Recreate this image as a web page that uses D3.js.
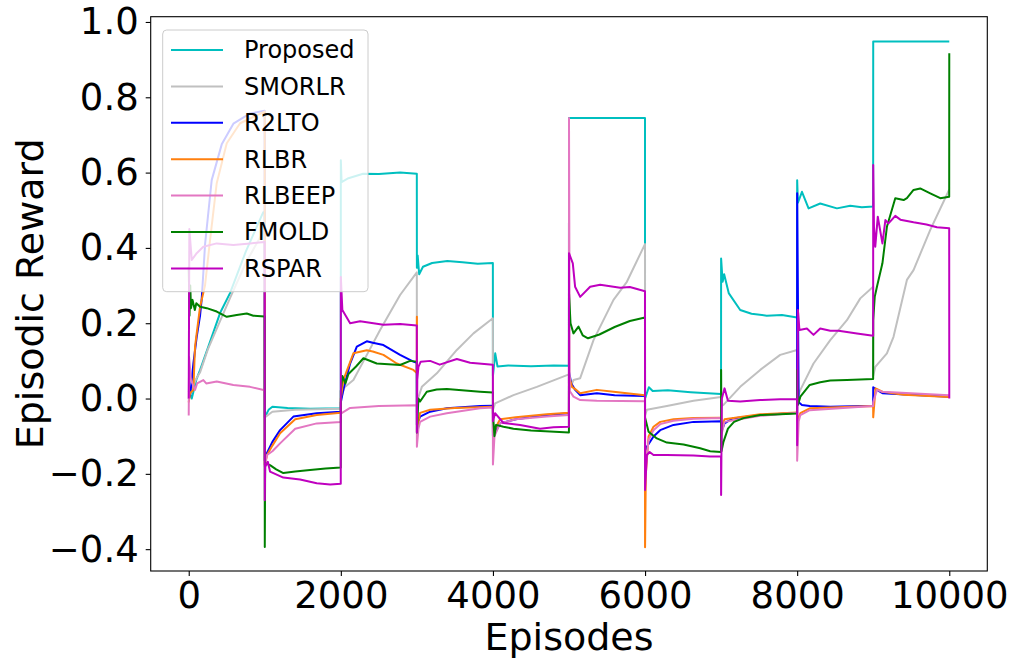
<!DOCTYPE html>
<html>
<head>
<meta charset="utf-8">
<script src="https://cdn.jsdelivr.net/npm/d3@7"></script>
<style>
  body { margin: 0; background: #fff; }
  text { font-family: "DejaVu Sans", sans-serif; }
</style>
</head>
<body>
<svg id="chart" width="1017" height="666"></svg>
<script>
/* data, [episode, reward] */
const seriesNames = ["Proposed", "SMORLR", "R2LTO", "RLBR", "RLBEEP", "FMOLD", "RSPAR"];
const seriesColors = ["#00bfbf", "#c0c0c0", "#0000ff", "#ff7f0e", "#e377c2", "#008000", "#bf00bf"];

const proposed = [
  [0, 0.02], [40, 0.0], [100, 0.05], [150, 0.076], [258, 0.138], [412, 0.227], [543, 0.28], [750, 0.39], [980, 0.495], [999, 0.495],
  [1000, -0.05], [1050, -0.03], [1100, -0.022], [1300, -0.025], [1600, -0.027], [1999, -0.026],
  [2000, 0.633], [2010, 0.575], [2100, 0.585], [2293, 0.597], [2500, 0.596], [2779, 0.6], [2999, 0.597],
  [3000, 0.347], [3010, 0.38], [3030, 0.33], [3080, 0.35], [3200, 0.36], [3400, 0.365], [3600, 0.362], [3800, 0.358], [3999, 0.36],
  [4000, 0.06], [4030, 0.12], [4060, 0.085], [4200, 0.088], [4500, 0.086], [4800, 0.088], [4999, 0.087],
  [5000, 0.745], [5999, 0.745],
  [6000, 0.0], [6050, 0.03], [6100, 0.02], [6300, 0.022], [6600, 0.017], [6999, 0.012],
  [7000, 0.372], [7020, 0.31], [7040, 0.33], [7100, 0.28], [7251, 0.235], [7400, 0.225], [7600, 0.22], [7800, 0.222], [7999, 0.215],
  [8000, 0.58], [8010, 0.52], [8063, 0.549], [8150, 0.505], [8303, 0.518], [8523, 0.505], [8698, 0.512], [8850, 0.508], [8999, 0.51],
  [9000, 0.948], [10000, 0.948]
];
const smorlr = [
  [0, 0.0], [50, 0.03], [105, 0.055], [150, 0.07], [250, 0.13], [400, 0.2], [550, 0.27], [750, 0.36], [999, 0.45],
  [1000, -0.05], [1100, -0.035], [1400, -0.03], [1999, -0.027],
  [2000, 0.0], [2050, 0.03], [2165, 0.049], [2300, 0.1], [2516, 0.182], [2779, 0.275], [2999, 0.335],
  [3000, -0.01], [3065, 0.031], [3262, 0.067], [3525, 0.129], [3744, 0.173], [3999, 0.213],
  [4000, -0.03], [4028, -0.013], [4270, 0.009], [4577, 0.031], [4999, 0.064],
  [5000, 0.02], [5059, 0.049], [5147, 0.054], [5322, 0.155], [5585, 0.262], [5761, 0.31], [5999, 0.41],
  [6000, -0.045], [6024, -0.03], [6287, -0.02], [6637, -0.006], [6999, 0.004],
  [7000, -0.02], [7031, -0.017], [7251, 0.031], [7514, 0.076], [7777, 0.116], [7999, 0.129],
  [8000, 0.0], [8042, 0.023], [8215, 0.093], [8435, 0.155], [8654, 0.208], [8830, 0.266], [8999, 0.297],
  [9000, 0.06], [9027, 0.084], [9180, 0.12], [9267, 0.164], [9443, 0.315], [9530, 0.341], [9750, 0.448], [10000, 0.555]
];
const r2lto = [
  [0, 0.0], [20, 0.01], [61, 0.093], [105, 0.164], [149, 0.22], [171, 0.265], [215, 0.41], [302, 0.58], [434, 0.675], [587, 0.73], [806, 0.757], [999, 0.764],
  [1000, -0.165], [1026, -0.146], [1100, -0.115], [1201, -0.084], [1376, -0.048], [1683, -0.039], [1999, -0.035],
  [2000, -0.01], [2033, 0.023], [2122, 0.093], [2210, 0.138], [2341, 0.152], [2420, 0.148], [2560, 0.142], [2779, 0.116], [2954, 0.098], [2999, 0.095],
  [3000, -0.07], [3042, -0.048], [3174, -0.035], [3393, -0.026], [3831, -0.02], [3999, -0.019],
  [4000, -0.1], [4030, -0.09], [4094, -0.066], [4300, -0.055], [4708, -0.044], [4999, -0.039],
  [5000, 0.071], [5030, 0.04], [5081, 0.023], [5147, 0.009], [5366, 0.014], [5600, 0.009], [5999, 0.007],
  [6000, -0.14], [6024, -0.128], [6111, -0.101], [6199, -0.084], [6374, -0.07], [6637, -0.062], [6999, -0.06],
  [7000, -0.09], [7045, -0.066], [7150, -0.053], [7514, -0.044], [7999, -0.038],
  [8000, 0.545], [8020, -0.01], [8063, -0.017], [8165, -0.02], [8435, -0.022], [8999, -0.019],
  [9000, 0.03], [9049, 0.023], [9121, 0.014], [9300, 0.012], [10000, 0.005]
];
const rlbr = [
  [0, -0.01], [17, 0.014], [61, 0.023], [83, 0.138], [149, 0.244], [214, 0.3], [280, 0.42], [368, 0.572], [500, 0.678], [675, 0.731], [999, 0.762],
  [1000, -0.175], [1030, -0.15], [1100, -0.125], [1201, -0.092], [1400, -0.055], [1683, -0.044], [1999, -0.038],
  [2000, 0.0], [2033, 0.049], [2165, 0.12], [2341, 0.128], [2420, 0.125], [2560, 0.116], [2736, 0.093], [2954, 0.076], [2999, 0.068],
  [3000, 0.217], [3003, -0.08], [3042, -0.038], [3174, -0.03], [3500, -0.025], [3999, -0.022],
  [4000, -0.09], [4094, -0.055], [4300, -0.05], [4708, -0.042], [4999, -0.038],
  [5000, 0.06], [5040, 0.031], [5081, 0.025], [5147, 0.014], [5366, 0.023], [5585, 0.018], [5999, 0.009],
  [6000, -0.395], [6010, -0.2], [6046, -0.101], [6111, -0.075], [6199, -0.062], [6374, -0.055], [6637, -0.052], [6999, -0.051],
  [7000, -0.08], [7045, -0.055], [7514, -0.042], [7999, -0.037],
  [8000, -0.06], [8042, -0.039], [8165, -0.026], [8999, -0.02],
  [9000, -0.05], [9030, 0.027], [9121, 0.018], [9400, 0.01], [10000, 0.004]
];
const rlbeep = [
  [0, -0.045], [5, 0.11], [30, 0.049], [83, 0.023], [110, 0.04], [192, 0.049], [230, 0.04], [368, 0.045], [587, 0.036], [806, 0.031], [999, 0.022],
  [1000, -0.18], [1030, -0.15], [1100, -0.14], [1201, -0.119], [1400, -0.08], [1683, -0.066], [1999, -0.062],
  [2000, -0.04], [2122, -0.025], [2500, -0.02], [2999, -0.018],
  [3000, -0.128], [3020, -0.08], [3042, -0.062], [3174, -0.048], [3393, -0.039], [3831, -0.026], [3999, -0.024],
  [4000, -0.175], [4020, -0.1], [4094, -0.066], [4300, -0.055], [4708, -0.048], [4999, -0.044],
  [5000, 0.745], [5010, 0.02], [5059, 0.005], [5147, -0.004], [5366, -0.006], [5999, -0.007],
  [6000, -0.2], [6046, -0.11], [6111, -0.084], [6199, -0.068], [6374, -0.059], [6637, -0.054], [6999, -0.052],
  [7000, -0.1], [7045, -0.062], [7514, -0.046], [7999, -0.038],
  [8000, -0.165], [8020, -0.06], [8042, -0.044], [8165, -0.031], [8999, -0.02],
  [9000, -0.01], [9049, 0.023], [9121, 0.018], [10000, 0.009]
];
const fmold = [
  [0, 0.35], [10, 0.22], [20, 0.3], [30, 0.24], [50, 0.262], [80, 0.235], [100, 0.253], [149, 0.244], [237, 0.24], [368, 0.231], [500, 0.217], [631, 0.222], [763, 0.226], [850, 0.22], [999, 0.218],
  [1000, -0.394], [1005, -0.172], [1069, -0.177], [1150, -0.188], [1244, -0.198], [1400, -0.194], [1595, -0.19], [1800, -0.186], [1999, -0.183],
  [2000, 0.02], [2020, 0.06], [2060, 0.04], [2100, 0.065], [2200, 0.085], [2297, 0.107], [2472, 0.093], [2779, 0.089], [2911, 0.1], [2999, 0.098],
  [3000, -0.09], [3020, 0.0], [3042, -0.008], [3130, 0.018], [3260, 0.024], [3393, 0.025], [3831, 0.018], [3999, 0.016],
  [4000, -0.04], [4020, -0.1], [4040, -0.07], [4138, -0.075], [4270, -0.08], [4500, -0.085], [4999, -0.09],
  [5000, 0.28], [5020, 0.2], [5059, 0.173], [5125, 0.191], [5180, 0.168], [5250, 0.16], [5400, 0.17], [5600, 0.19], [5800, 0.206], [5999, 0.215],
  [6000, -0.05], [6046, -0.088], [6155, -0.106], [6287, -0.117], [6506, -0.122], [6725, -0.132], [6856, -0.14], [6999, -0.142],
  [7000, 0.076], [7005, -0.14], [7031, -0.115], [7090, -0.08], [7170, -0.062], [7295, -0.052], [7514, -0.044], [7777, -0.042], [7999, -0.04],
  [8000, 0.076], [8010, -0.017], [8042, 0.005], [8165, 0.036], [8303, 0.043], [8435, 0.048], [8654, 0.049], [8999, 0.052],
  [9000, 0.208], [9020, 0.27], [9049, 0.297], [9121, 0.359], [9180, 0.456], [9290, 0.532], [9400, 0.527], [9443, 0.532], [9530, 0.554], [9618, 0.558], [9750, 0.545], [9882, 0.532], [9999, 0.536], [10000, 0.917]
];
const rspar = [
  [0, 0.0], [8, 0.45], [40, 0.368], [105, 0.386], [192, 0.403], [368, 0.412], [587, 0.408], [806, 0.412], [999, 0.416],
  [1000, -0.27], [1005, -0.181], [1040, -0.168], [1069, -0.194], [1244, -0.21], [1464, -0.215], [1683, -0.225], [1860, -0.228], [1999, -0.226],
  [2000, 0.323], [2020, 0.235], [2122, 0.2], [2253, 0.205], [2560, 0.196], [2779, 0.198], [2999, 0.194],
  [3000, -0.09], [3005, 0.05], [3020, 0.084], [3050, 0.098], [3174, 0.1], [3300, 0.09], [3525, 0.105], [3700, 0.095], [3999, 0.09],
  [4000, -0.06], [4028, -0.039], [4138, -0.065], [4357, -0.07], [4620, -0.08], [4796, -0.076], [4999, -0.075],
  [5000, 0.386], [5050, 0.359], [5080, 0.297], [5147, 0.27], [5278, 0.297], [5410, 0.302], [5673, 0.294], [5800, 0.296], [5999, 0.285],
  [6000, -0.243], [6024, -0.15], [6060, -0.142], [6111, -0.15], [6287, -0.15], [6637, -0.151], [6856, -0.154], [6999, -0.153],
  [7000, -0.256], [7010, 0.0], [7045, 0.027], [7090, -0.006], [7251, -0.008], [7514, -0.004], [7777, -0.002], [7999, -0.002],
  [8000, -0.124], [8010, 0.235], [8030, 0.182], [8128, 0.186], [8215, 0.169], [8303, 0.186], [8435, 0.18], [8544, 0.18], [8786, 0.173], [8999, 0.167],
  [9000, 0.62], [9010, 0.456], [9027, 0.403], [9060, 0.483], [9121, 0.412], [9160, 0.474], [9200, 0.465], [9240, 0.474], [9290, 0.485], [9357, 0.475], [9530, 0.468], [9700, 0.462], [9838, 0.455], [9999, 0.452], [10000, 0.0]
];
const allSeries = [proposed, smorlr, r2lto, rlbr, rlbeep, fmold, rspar];

const xTicks = [0, 2000, 4000, 6000, 8000, 10000];
const yTicks = [-0.4, -0.2, 0.0, 0.2, 0.4, 0.6, 0.8, 1.0];

/* layout */
const svg = d3.select("#chart");
const plot = { left: 150.7, top: 16.7, right: 987.3, bottom: 571 };

const x = d3.scaleLinear().domain([-500, 10500]).range([plot.left, plot.right]);
const y = d3.scaleLinear().domain([-0.458, 1.014]).range([plot.bottom, plot.top]);

svg.append("defs").append("clipPath").attr("id", "clip")
  .append("rect")
  .attr("x", plot.left).attr("y", plot.top)
  .attr("width", plot.right - plot.left).attr("height", plot.bottom - plot.top);

const line = d3.line().x((d) => x(d[0])).y((d) => y(d[1]));

svg.append("g")
  .attr("clip-path", "url(#clip)")
  .selectAll("path")
  .data(allSeries)
  .enter()
  .append("path")
  .attr("d", line)
  .attr("fill", "none")
  .attr("stroke", (d, i) => seriesColors[i])
  .attr("stroke-width", 2)
  .attr("stroke-linejoin", "round");

/* axes */
const fmtY = (v) => d3.format(".1f")(v).replace("-", "\u2212");

const xAxis = svg.append("g")
  .attr("transform", `translate(0,${plot.bottom})`)
  .call(d3.axisBottom(x).tickValues(xTicks).tickSize(5).tickPadding(6).tickFormat(d3.format("d")));
const yAxis = svg.append("g")
  .attr("transform", `translate(${plot.left},0)`)
  .call(d3.axisLeft(y).tickValues(yTicks).tickSize(5).tickPadding(7).tickFormat(fmtY));

[xAxis, yAxis].forEach((a) => {
  a.select(".domain").remove();
  a.selectAll("line").attr("stroke", "#000").attr("stroke-width", 1.1);
  a.selectAll("text")
    .attr("fill", "#000")
    .style("font-family", "DejaVu Sans, sans-serif")
    .style("font-size", "37px");
});

svg.append("rect")
  .attr("x", plot.left).attr("y", plot.top)
  .attr("width", plot.right - plot.left).attr("height", plot.bottom - plot.top)
  .attr("fill", "none").attr("stroke", "#000").attr("stroke-width", 1.1);

svg.append("text")
  .attr("x", (plot.left + plot.right) / 2)
  .attr("y", 650)
  .attr("text-anchor", "middle")
  .style("font-size", "38px")
  .text("Episodes");

svg.append("text")
  .attr("transform", `translate(43,${(plot.top + plot.bottom) / 2}) rotate(-90)`)
  .attr("text-anchor", "middle")
  .style("font-size", "38px")
  .text("Episodic Reward");

/* legend */
const legend = svg.append("g");
legend.append("rect")
  .attr("x", 162.7).attr("y", 30)
  .attr("width", 205.3).attr("height", 261.7)
  .attr("rx", 4).attr("ry", 4)
  .attr("fill", "#fff").attr("fill-opacity", 0.8)
  .attr("stroke", "#cccccc").attr("stroke-width", 1);

const rows = legend.selectAll(".row")
  .data(seriesNames)
  .enter()
  .append("g")
  .attr("transform", (d, i) => `translate(0,${50 + i * 36.4})`);

rows.append("line")
  .attr("x1", 171).attr("x2", 223)
  .attr("stroke", (d, i) => seriesColors[i])
  .attr("stroke-width", 2);

rows.append("text")
  .attr("x", 244)
  .attr("dy", "0.35em")
  .style("font-size", "24px")
  .text((d) => d);
</script>
</body>
</html>
